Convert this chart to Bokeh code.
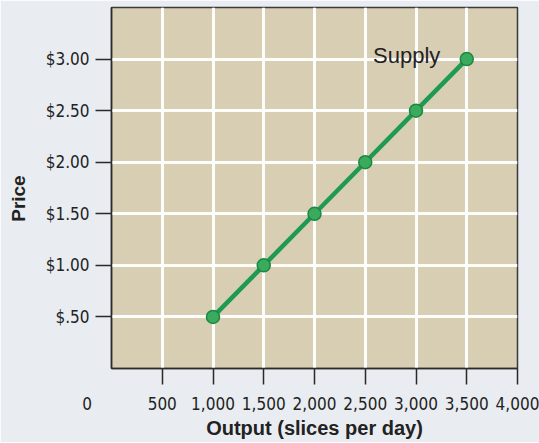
from bokeh.plotting import figure
from bokeh.models import FixedTicker, Label
from bokeh.embed import file_html
from bokeh.resources import INLINE

# Data
output = [1000, 1500, 2000, 2500, 3000, 3500]
price = [0.50, 1.00, 1.50, 2.00, 2.50, 3.00]
x_ticks = [0, 500, 1000, 1500, 2000, 2500, 3000, 3500, 4000]
x_labels = ["0", "500", "1,000", "1,500", "2,000", "2,500", "3,000", "3,500", "4,000"]
y_ticks = [0.5, 1.0, 1.5, 2.0, 2.5, 3.0]
y_labels = ["$.50", "$1.00", "$1.50", "$2.00", "$2.50", "$3.00"]

NB = "\u00a0"

p = figure(frame_width=406, frame_height=361, output_backend="svg", toolbar_location=None,
           x_range=(0, 4000), y_range=(0, 3.5),
           min_border_left=111, min_border_right=22, min_border_top=7, min_border_bottom=74)

p.background_fill_color = "#d8ceb4"
p.border_fill_color = "#e9edf1"
p.outline_line_color = "#3a3a3a"
p.outline_line_width = 1.5

# grid
p.xgrid.ticker = FixedTicker(ticks=x_ticks[1:-1])
p.ygrid.ticker = FixedTicker(ticks=y_ticks)
for g in (p.xgrid, p.ygrid):
    g.grid_line_color = "white"
    g.grid_line_width = 3
    g.grid_line_alpha = 0.95

tick_font = "'Liberation Sans Narrow', 'DejaVu Sans Condensed', Roboto, sans-serif"
# x axis: labels on major ticks (incl. the origin "0"), tick marks drawn as minor ticks
xa = p.xaxis[0]
xa.ticker = FixedTicker(ticks=x_ticks, minor_ticks=x_ticks[1:])
overrides = {t: l for t, l in zip(x_ticks, x_labels)}
overrides[0] = "0" + NB * 10
xa.major_label_overrides = overrides
xa.major_tick_out = 0
xa.major_tick_in = 0
xa.minor_tick_out = 16
xa.minor_tick_in = 0
xa.minor_tick_line_color = "#2a2a2a"
xa.minor_tick_line_width = 1.5
xa.axis_line_color = "#2a2a2a"
xa.axis_line_width = 1.5
xa.major_label_text_font = tick_font
xa.major_label_text_font_size = "17px"
xa.major_label_text_color = "#222222"
xa.major_label_standoff = 9
xa.axis_label = "Output (slices per day)"
xa.axis_label_text_font = "Liberation Sans"
xa.axis_label_text_font_style = "bold"
xa.axis_label_text_font_size = "20px"
xa.axis_label_text_color = "#222222"
xa.axis_label_standoff = 0

# y axis
ya = p.yaxis[0]
ya.ticker = FixedTicker(ticks=y_ticks)
ya.major_label_overrides = {t: l for t, l in zip(y_ticks, y_labels)}
ya.major_tick_out = 16
ya.major_tick_in = 0
ya.minor_tick_out = 0
ya.minor_tick_in = 0
ya.axis_line_color = "#2a2a2a"
ya.axis_line_width = 1.5
ya.major_tick_line_color = "#2a2a2a"
ya.major_tick_line_width = 1.5
ya.major_label_text_font = tick_font
ya.major_label_text_font_size = "17px"
ya.major_label_text_color = "#222222"
ya.major_label_standoff = 6
ya.axis_label = "Price" + NB * 4
ya.axis_label_text_font = "Liberation Sans"
ya.axis_label_text_font_style = "bold"
ya.axis_label_text_font_size = "19px"
ya.axis_label_text_color = "#222222"
ya.axis_label_standoff = 14

# supply line
p.line(output, price, line_color="#1f9a52", line_width=4.5)
p.scatter(output, price, size=13, fill_color="#3aab5c", line_color="#1a8845", line_width=1.5)

p.add_layout(Label(x=3240, y=3.03, text="Supply", text_align="right", text_baseline="middle",
                   text_font="Liberation Sans", text_font_size="22px", text_color="#222222"))

open("out.html", "w").write(file_html(p, INLINE))
